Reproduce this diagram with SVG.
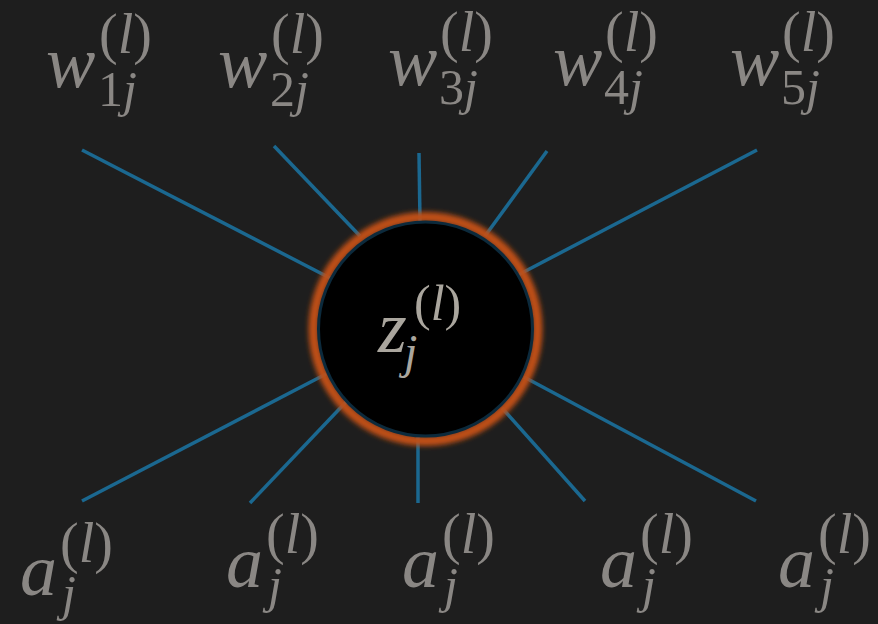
<svg xmlns="http://www.w3.org/2000/svg" width="878" height="624" viewBox="0 0 878 624">
<defs>
<style>
text{font-family:'Liberation Serif','DejaVu Serif',serif;font-style:italic;fill:#8a8784;font-size:74px}
.sp{font-size:56px}
.sb{font-size:50px}
.up{font-style:normal}
.zl{fill:#aaa69e}
.edge{stroke:#1b6890;stroke-width:3.5;fill:none}
</style>
<filter id="glow" x="-20%" y="-20%" width="140%" height="140%"><feGaussianBlur stdDeviation="2.8"/></filter>
</defs>
<rect width="878" height="624" fill="#1e1e1e"/>
<g id="connectors">
<line class="edge" x1="82" y1="150" x2="330" y2="278"/>
<line class="edge" x1="274" y1="146" x2="360" y2="236"/>
<line class="edge" x1="419" y1="153" x2="420" y2="222"/>
<line class="edge" x1="547" y1="151" x2="485" y2="236"/>
<line class="edge" x1="757" y1="150" x2="518" y2="275"/>
<line class="edge" x1="82" y1="501" x2="326" y2="374"/>
<line class="edge" x1="250" y1="503" x2="346" y2="402"/>
<line class="edge" x1="418" y1="503" x2="418" y2="436"/>
<line class="edge" x1="585" y1="501" x2="502" y2="408"/>
<line class="edge" x1="756" y1="501" x2="524" y2="377"/>
</g>
<g id="neuron">
<circle cx="425.5" cy="329" r="112" fill="none" stroke="#c04f18" stroke-width="10" filter="url(#glow)"/>
<circle cx="425.5" cy="329" r="107" fill="#000" stroke="#0c2a3c" stroke-width="3"/>
<text class="zl" x="378" y="352" font-size="66">z<tspan x="414" y="320" font-size="50"><tspan class="up">(</tspan>l<tspan class="up">)</tspan></tspan><tspan x="404" y="368" font-size="48">j</tspan></text>
</g>
<g id="w1">
<text x="46" y="87">w<tspan class="sp" x="99" y="53"><tspan class="up">(</tspan>l<tspan class="up">)</tspan></tspan><tspan class="sb" x="98" y="106"><tspan class="up">1</tspan>j</tspan></text>
</g>
<g id="w2">
<text x="218" y="87">w<tspan class="sp" x="271" y="53"><tspan class="up">(</tspan>l<tspan class="up">)</tspan></tspan><tspan class="sb" x="270" y="106"><tspan class="up">2</tspan>j</tspan></text>
</g>
<g id="w3">
<text x="388" y="85">w<tspan class="sp" x="440" y="51"><tspan class="up">(</tspan>l<tspan class="up">)</tspan></tspan><tspan class="sb" x="439" y="104"><tspan class="up">3</tspan>j</tspan></text>
</g>
<g id="w4">
<text x="553" y="85">w<tspan class="sp" x="605" y="51"><tspan class="up">(</tspan>l<tspan class="up">)</tspan></tspan><tspan class="sb" x="604" y="104"><tspan class="up">4</tspan>j</tspan></text>
</g>
<g id="w5">
<text x="730" y="85">w<tspan class="sp" x="782" y="51"><tspan class="up">(</tspan>l<tspan class="up">)</tspan></tspan><tspan class="sb" x="781" y="104"><tspan class="up">5</tspan>j</tspan></text>
</g>
<g id="a1">
<text x="20" y="595">a<tspan class="sp" x="60" y="562"><tspan class="up">(</tspan>l<tspan class="up">)</tspan></tspan><tspan class="sb" x="62" y="610">j</tspan></text>
</g>
<g id="a2">
<text x="226" y="587">a<tspan class="sp" x="266" y="553"><tspan class="up">(</tspan>l<tspan class="up">)</tspan></tspan><tspan class="sb" x="268" y="602">j</tspan></text>
</g>
<g id="a3">
<text x="402" y="587">a<tspan class="sp" x="442" y="553"><tspan class="up">(</tspan>l<tspan class="up">)</tspan></tspan><tspan class="sb" x="444" y="602">j</tspan></text>
</g>
<g id="a4">
<text x="600" y="587">a<tspan class="sp" x="640" y="553"><tspan class="up">(</tspan>l<tspan class="up">)</tspan></tspan><tspan class="sb" x="642" y="602">j</tspan></text>
</g>
<g id="a5">
<text x="778" y="587">a<tspan class="sp" x="818" y="553"><tspan class="up">(</tspan>l<tspan class="up">)</tspan></tspan><tspan class="sb" x="820" y="602">j</tspan></text>
</g>
</svg>
